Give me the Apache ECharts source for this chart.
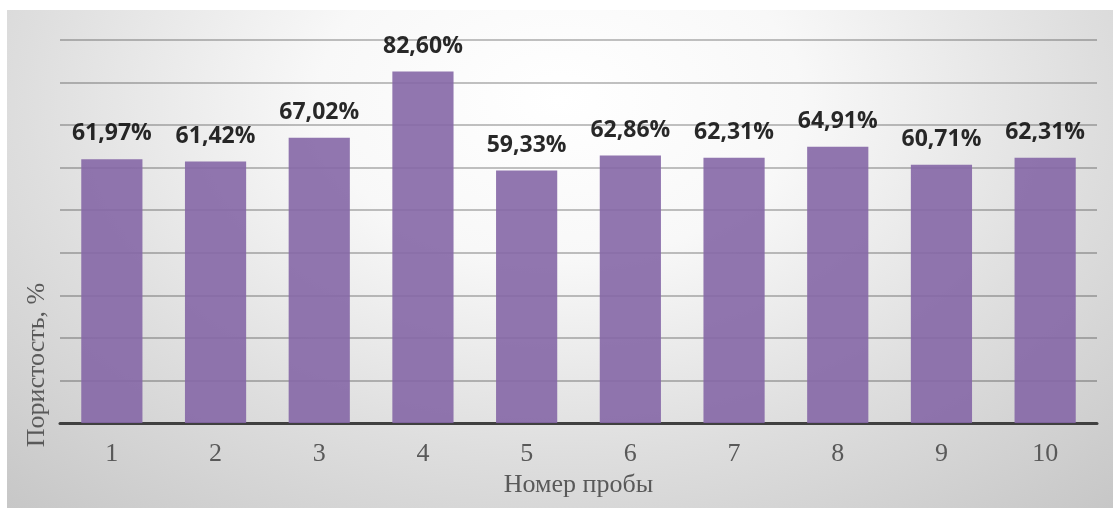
<!DOCTYPE html>
<html>
<head>
<meta charset="utf-8">
<title>Пористость проб</title>
<script src="https://cdn.jsdelivr.net/npm/echarts@6/dist/echarts.min.js"></script>
<style>
  html, body { margin: 0; padding: 0; background: #ffffff; }
  #chart {
    position: absolute;
    left: 7px;
    top: 10px;
    width: 1106px;
    height: 498px;
    background: radial-gradient(ellipse 78% 115% at 50% 18%, #ffffff 0%, #f8f8f8 28%, #dedede 62%, #c4c4c4 100%);
  }
</style>
</head>
<body>
<div id="chart"></div>
<script>
// Sample numbers along the category axis
const sampleNumbers = ['1', '2', '3', '4', '5', '6', '7', '8', '9', '10'];
// Porosity of each sample, percent
const porosity = [61.97, 61.42, 67.02, 82.60, 59.33, 62.86, 62.31, 64.91, 60.71, 62.31];

const xTitle = 'Номер пробы';
const yTitle = 'Пористость, %';

const chart = echarts.init(document.getElementById('chart'), null, { renderer: 'canvas' });

chart.setOption({
  backgroundColor: 'transparent',
  animation: false,
  grid: { left: 53, right: 16, top: 30, bottom: 85 },
  xAxis: {
    type: 'category',
    data: sampleNumbers,
    name: xTitle,
    nameLocation: 'middle',
    nameGap: 46,
    nameTextStyle: { fontFamily: 'Liberation Serif', fontSize: 26, color: '#595959' },
    axisLine: { show: true, lineStyle: { color: '#404040', width: 3 } },
    axisTick: { show: false },
    axisLabel: { fontFamily: 'Liberation Serif', fontSize: 26, color: '#595959', margin: 18 }
  },
  yAxis: {
    type: 'value',
    min: 0,
    max: 90,
    interval: 10,
    axisLine: { show: false },
    axisTick: { show: false },
    axisLabel: { show: false },
    splitLine: { show: true, lineStyle: { color: 'rgba(0,0,0,0.24)', width: 2 } }
  },
  graphic: [{
    type: 'text',
    x: 30,
    y: 355,
    rotation: Math.PI / 2,
    style: {
      text: yTitle,
      fontFamily: 'Liberation Serif',
      fontSize: 26,
      fill: '#595959',
      align: 'center',
      verticalAlign: 'middle'
    }
  }],
  series: [{
    type: 'bar',
    data: porosity,
    barCategoryGap: '41%',
    itemStyle: { color: '#8567a6', opacity: 0.9 },
    label: {
      show: true,
      position: 'top',
      distance: 14,
      fontFamily: 'Open Sans',
      fontWeight: 'bold',
      fontSize: 23,
      color: '#111111',
      formatter: p => p.value.toFixed(2).replace('.', ',') + '%'
    }
  }]
});
</script>
</body>
</html>
